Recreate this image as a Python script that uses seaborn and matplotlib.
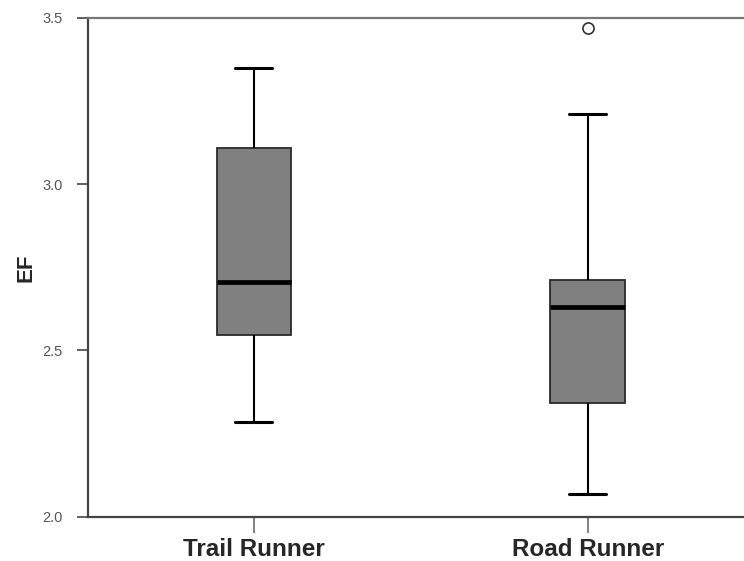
import pandas as pd
import matplotlib.pyplot as plt
import seaborn as sns

# --- Data ---
GROUPS = ["Trail Runner", "Road Runner"]
trail_ef = [2.285, 2.40, 2.547, 2.62, 2.705, 2.90, 3.108, 3.20, 3.349]
road_ef = [2.069, 2.20, 2.342, 2.50, 2.630, 2.68, 2.712, 3.210, 3.471]
Y_TICKS = [2.0, 2.5, 3.0, 3.5]

df = pd.DataFrame({
    "group": [GROUPS[0]] * len(trail_ef) + [GROUPS[1]] * len(road_ef),
    "EF": trail_ef + road_ef,
})

sns.set_theme(style="ticks")
plt.rcParams['font.family'] = ['Liberation Sans', 'DejaVu Sans']

fig = plt.figure(figsize=(7.44, 5.61), dpi=100)
ax = fig.add_axes([0.118, 0.079, 0.882, 0.889])

sns.boxplot(
    data=df, x="group", y="EF", order=GROUPS, ax=ax,
    width=0.223, color="#808080", saturation=1, linecolor="black",
    boxprops=dict(edgecolor="#2a2a2a", linewidth=1.3),
    medianprops=dict(color="black", linewidth=3.4),
    whiskerprops=dict(color="black", linewidth=1.5),
    capprops=dict(color="black", linewidth=2.2),
    flierprops=dict(marker="o", markerfacecolor="white", markeredgecolor="#333333",
                    markersize=8, markeredgewidth=1.2),
)

ax.set_xlim(-0.497, 1.468)
ax.set_ylim(2.0, 3.5)
ax.set_yticks(Y_TICKS)
ax.set_yticklabels([f"{t:.1f}" for t in Y_TICKS])
ax.set_xlabel("")
ax.set_ylabel("EF", fontsize=16, fontweight="bold", labelpad=4)

ax.tick_params(axis="y", direction="out", length=8, width=1.3, color="#555555",
               labelsize=10.5, labelcolor="#555555", pad=10)
ax.tick_params(axis="x", direction="out", length=11.5, width=1.3, color="#777777",
               labelsize=17.5, pad=4)
for lbl in ax.get_xticklabels():
    lbl.set_fontweight("bold")

ax.spines["right"].set_visible(False)
ax.spines["top"].set_color("#777777")
ax.spines["top"].set_linewidth(1.6)
for side in ["left", "bottom"]:
    ax.spines[side].set_color("#444444")
    ax.spines[side].set_linewidth(1.6)

fig.savefig("out.png", dpi=100)
